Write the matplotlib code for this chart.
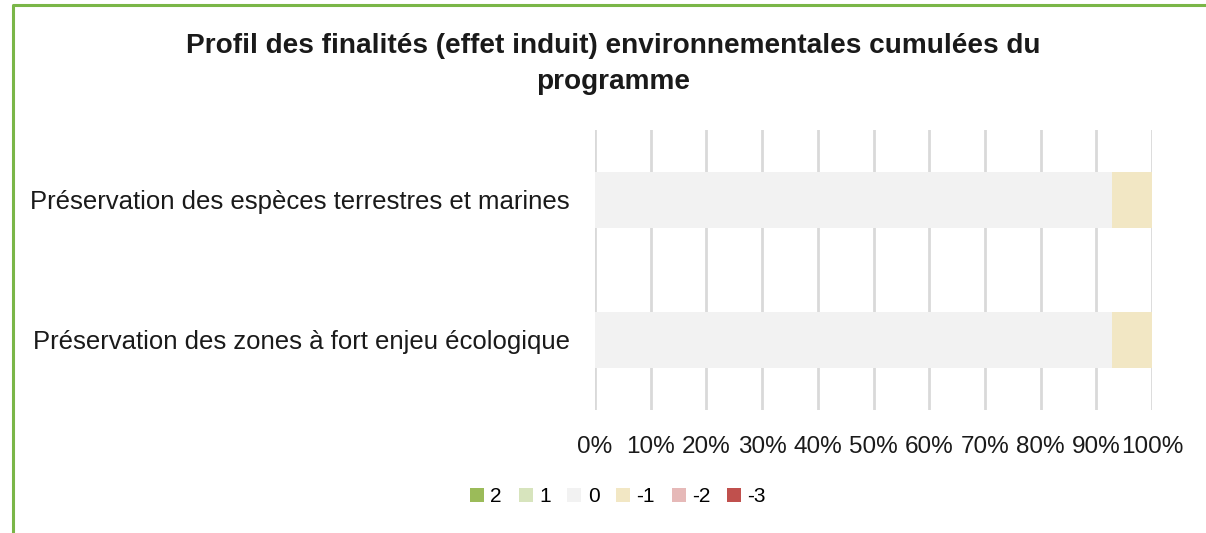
import numpy as np
import matplotlib.pyplot as plt
from matplotlib.lines import Line2D
from matplotlib.patches import Patch

plt.rcParams['font.family'] = ['Liberation Sans', 'DejaVu Sans']

# data
categories = ["Préservation des espèces terrestres et marines",
              "Préservation des zones à fort enjeu écologique"]
levels = ["2", "1", "0", "-1", "-2", "-3"]
shares = {
    "2": [0.0, 0.0],
    "1": [0.0, 0.0],
    "0": [92.86, 92.86],
    "-1": [7.14, 7.14],
    "-2": [0.0, 0.0],
    "-3": [0.0, 0.0],
}
colors = ["#9bbb59", "#d7e4bd", "#f2f2f2", "#f2e7c4", "#e6b9b8", "#c0504d"]
ticks = np.arange(0, 101, 10)
tick_labels = ["%d%%" % t for t in ticks]

W, H = 1206, 533
fig = plt.figure(figsize=(W / 100, H / 100), dpi=100)
ax = fig.add_axes([595 / W, 1 - 410 / H, (1152 - 595) / W, 280 / H])

ypos = np.arange(len(categories))
left = np.zeros(len(categories))
for lev, col in zip(levels, colors):
    vals = np.array(shares[lev])
    ax.barh(ypos, vals, left=left, height=0.4, color=col, zorder=3)
    left += vals

ax.set_xlim(0, 100)
ax.set_ylim(1.5, -0.5)
ax.set_xticks(ticks)
ax.set_xticklabels(tick_labels, fontsize=17.5, color="#1a1a1a")
ax.set_yticks(ypos)
ax.set_yticklabels(categories, fontsize=18.5, color="#1a1a1a")
ax.tick_params(axis="both", length=0)
ax.tick_params(axis="x", pad=19)
ax.tick_params(axis="y", pad=18)
ax.grid(axis="x", color="#d9d9d9", linewidth=2, zorder=0)
for s in ax.spines.values():
    s.set_visible(False)

fig.text(613 / W, 1 - 46 / H, "Profil des finalités (effet induit) environnementales cumulées du",
         ha="center", va="center", fontsize=20.2, fontweight="bold", color="#1a1a1a")
fig.text(613 / W, 1 - 82 / H, "programme",
         ha="center", va="center", fontsize=20.2, fontweight="bold", color="#1a1a1a")

handles = [Patch(facecolor=c, edgecolor="none") for c in colors]
fig.legend(handles, levels, loc="center", bbox_to_anchor=(618 / W, 1 - 497 / H),
           ncol=6, frameon=False, fontsize=15, handlelength=0.68, handleheight=0.68,
           handletextpad=0.3, columnspacing=0.8)

# green frame of the chart box
fig.add_artist(Line2D([13 / W, 13 / W, 1.0], [0.0, 1 - 5 / H, 1 - 5 / H],
                      transform=fig.transFigure, color="#7ab648", linewidth=2.2))

fig.savefig("out.png", dpi=100)
